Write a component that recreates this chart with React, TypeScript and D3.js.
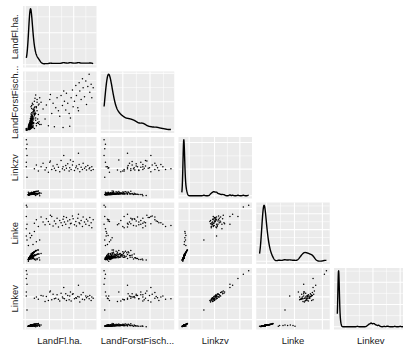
import React from "react";
import * as d3 from "d3";

// variable names as shown on the axes
const varLabels = ["LandFl.ha.", "LandForstFisch...", "Linkzv", "Linke", "Linkev"];

// observations (same order in every array):
// low cluster (2 x 90), mid-Linke group (8), high group (50), strip (7)
const landFl = [
  4, 6, 5, 7, 3, 8, 5, 9, 4, 6, 10, 7, 5, 11, 6, 8, 3, 12, 7, 5,
  9, 6, 14, 4, 8, 10, 5, 7, 6, 16, 4, 9, 7, 5, 12, 6, 8, 3, 11, 6,
  5, 7, 13, 4, 9, 6, 18, 5, 8, 7, 10, 4, 6, 15, 5, 8, 7, 3, 11, 6,
  9, 12, 8, 20, 14, 5, 7, 4, 10, 6, 22, 5, 8, 17, 6, 9, 4, 7, 13, 5,
  11, 6, 19, 8, 5, 7, 16, 4, 10, 6,
  5, 7, 6, 4, 9, 8, 6, 5, 11, 7, 4, 8, 6, 5, 10, 7, 3, 9, 6, 5,
  12, 7, 6, 4, 8, 9, 5, 7, 6, 13, 5, 8, 6, 4, 10, 7, 9, 3, 11, 6,
  5, 8, 12, 5, 9, 7, 15, 6, 8, 7, 10, 4, 6, 14, 5, 8, 7, 4, 11, 6,
  8, 10, 7, 16, 13, 5, 7, 4, 9, 6, 18, 5, 8, 14, 6, 9, 4, 7, 12, 5,
  10, 6, 17, 8, 5, 7, 19, 4, 9, 6,
  5, 8, 12, 15, 20, 10, 6, 3,
  12, 15, 18, 22, 25, 28, 30, 33, 35, 38, 40, 42, 44, 46, 48, 50, 52, 54, 55, 57,
  59, 60, 62, 64, 65, 67, 69, 70, 72, 74, 75, 77, 79, 80, 82, 84, 85, 87, 89, 90,
  92, 94, 95, 97, 98, 100, 36, 66, 56, 78,
  0, 1, 0, 1, 0, 1, 0,
];
const landForst = [
  3, 5, 8, 4, 2, 10, 6, 14, 1, 7, 18, 9, 4, 22, 12, 6, 5, 26, 11, 3,
  16, 8, 30, 6, 13, 9, 7, 20, 2, 35, 10, 5, 15, 9, 40, 4, 24, 7, 12, 17,
  11, 3, 28, 8, 21, 13, 45, 5, 19, 10, 33, 4, 15, 12, 2, 27, 6, 3, 38, 9,
  48, 52, 44, 58, 63, 14, 23, 11, 7, 18, 10, 6, 31, 20, 3, 25, 9, 16, 42, 8,
  35, 21, 15, 12, 5, 29, 55, 2, 14, 7,
  4, 9, 6, 3, 12, 15, 5, 8, 20, 11, 2, 17, 7, 10, 24, 13, 4, 19, 8, 5,
  28, 10, 14, 6, 22, 7, 9, 18, 3, 32, 12, 6, 16, 7, 37, 4, 26, 2, 14, 11,
  8, 5, 30, 10, 23, 12, 40, 6, 16, 9, 29, 5, 13, 18, 3, 21, 7, 4, 34, 10,
  39, 46, 42, 50, 57, 11, 19, 9, 6, 15, 12, 4, 27, 22, 5, 24, 8, 14, 36, 7,
  31, 17, 14, 10, 4, 25, 47, 3, 13, 8,
  4, 6, 3, 8, 10, 5, 12, 2,
  35, 42, 28, 50, 38, 20, 45, 8, 55, 30, 48, 6, 40, 58, 35, 25, 62, 44, 5, 52,
  36, 66, 48, 30, 7, 58, 72, 42, 52, 80, 62, 40, 85, 70, 55, 92, 76, 60, 88, 46,
  78, 100, 68, 82, 58, 76, 64, 22, 70, 35,
  0, 2, 1, 0, 2, 1, 3,
];
const linkzv = [
  2.4, 2.8, 2.2, 3.0, 1.8, 3.2, 2.6, 3.4, 2.0, 2.7, 3.6, 2.9, 2.5, 3.1, 2.3, 3.3, 1.6, 3.8, 2.6, 2.1,
  3.0, 2.8, 3.5, 2.4, 2.9, 3.2, 2.2, 3.4, 2.6, 4.0, 1.9, 3.1, 2.7, 2.5, 3.6, 2.3, 3.0, 1.5, 3.3, 2.8,
  2.4, 2.9, 3.7, 2.1, 3.2, 2.6, 4.2, 2.3, 2.9, 2.7, 3.4, 2.0, 2.5, 3.9, 2.2, 3.1, 2.8, 1.7, 3.5, 2.6,
  2.4, 2.0, 2.2, 0, 0.5, 2.6, 3.0, 2.3, 3.2, 2.7, 4.4, 2.4, 2.9, 4.1, 2.5, 3.3, 2.1, 2.8, 3.8, 2.3,
  2.6, 2.7, 4.3, 3.0, 2.2, 2.9, 2.1, 2.0, 3.1, 2.6,
  3.5, 4.8, 2.9, 2.2, 5.5, 4.1, 3.1, 2.7, 6.2, 3.8, 2.5, 4.5, 3.3, 2.8, 5.0, 3.6, 1.9, 4.9, 3.0, 2.6,
  6.8, 3.7, 3.2, 2.3, 4.3, 5.2, 2.9, 4.0, 3.4, 7.2, 2.7, 4.4, 3.5, 2.4, 5.8, 3.9, 4.7, 1.7, 6.0, 3.1,
  2.6, 4.2, 6.5, 2.8, 5.1, 3.6, 7.8, 3.0, 4.4, 3.7, 5.4, 2.3, 3.3, 7.0, 2.7, 4.6, 3.9, 2.0, 6.1, 3.2,
  3.0, 2.6, 2.9, 2.4, 2.1, 3.0, 4.1, 2.5, 4.8, 3.4, 8.4, 2.8, 4.3, 7.5, 3.2, 5.0, 2.4, 3.8, 6.6, 2.9,
  3.5, 3.3, 8.0, 4.5, 2.6, 4.0, 3.1, 2.1, 5.3, 3.5,
  5.0, 6.0, 4.5, 4.0, 5.5, 3.5, 4.5, 6.0,
  48, 55, 44, 52, 58, 46, 50, 42, 60, 47, 53, 49, 45, 56, 51, 43, 63, 48, 52, 46,
  54, 49, 57, 44, 50, 47, 55, 61, 45, 50, 53, 48, 56, 43, 51, 47, 58, 49, 52, 46,
  54, 48, 50, 45, 52, 47, 62, 64, 72, 76,
  100, 92, 84, 72, 60, 33, 52,
];
const linke = [
  5, 6, 4, 7, 3, 8, 6, 9, 4, 6, 10, 7, 5, 8, 5, 9, 2, 11, 6, 4,
  7, 6, 10, 5, 7, 8, 5, 9, 6, 12, 3, 8, 6, 5, 10, 5, 7, 0, 9, 6,
  5, 7, 11, 4, 8, 6, 13, 5, 7, 6, 9, 4, 6, 12, 4, 8, 7, 3, 10, 6,
  5, 3, 4, 2, 2, 6, 7, 5, 8, 6, 14, 5, 7, 13, 6, 9, 4, 7, 11, 5,
  5, 6, 13, 8, 4, 7, 3, 4, 8, 6,
  9, 13, 7, 5, 15, 11, 8, 6, 16, 10, 6, 12, 8, 7, 14, 9, 4, 13, 8, 6,
  17, 9, 8, 5, 11, 14, 7, 10, 8, 18, 6, 12, 9, 5, 15, 10, 12, 3, 16, 8,
  7, 11, 16, 6, 13, 9, 19, 7, 11, 9, 14, 5, 8, 18, 6, 12, 10, 4, 15, 8,
  7, 6, 7, 5, 4, 7, 10, 6, 13, 8, 20, 6, 11, 19, 8, 13, 5, 9, 17, 7,
  8, 8, 20, 12, 6, 10, 6, 4, 14, 9,
  50, 46, 53, 35, 38, 30, 42, 28,
  68, 74, 62, 79, 70, 65, 76, 71, 66, 80, 63, 72, 67, 77, 61, 73, 69, 64, 75, 70,
  66, 78, 72, 60, 74, 68, 81, 76, 65, 71, 63, 77, 69, 67, 73, 62, 79, 70, 66, 75,
  72, 64, 78, 69, 60, 74, 82, 67, 80, 84,
  100, 97, 80, 66, 58, 38, 45,
];
const linkev = [
  1.4, 1.7, 1.2, 1.9, 0.9, 2.1, 1.5, 2.3, 1.1, 1.6, 2.5, 1.8, 1.4, 2.0, 1.3, 2.2, 0.7, 2.6, 1.6, 1.2,
  1.9, 1.7, 2.4, 1.4, 1.8, 2.1, 1.3, 2.3, 1.5, 2.8, 1.0, 2.0, 1.7, 1.5, 2.5, 1.3, 1.9, 0.6, 2.2, 1.7,
  1.4, 1.8, 2.6, 1.1, 2.1, 1.6, 3.0, 1.3, 1.8, 1.7, 2.3, 1.0, 1.5, 2.7, 1.2, 2.0, 1.8, 0.8, 2.4, 1.6,
  1.2, 0.9, 1.0, 0.6, 0, 1.6, 1.9, 1.3, 2.1, 1.7, 3.2, 1.4, 1.8, 2.9, 1.5, 2.2, 1.1, 1.8, 2.6, 1.3,
  1.4, 1.6, 3.1, 2.0, 1.2, 1.9, 0.8, 1.0, 2.0, 1.6,
  2.2, 3.0, 1.8, 1.4, 3.6, 2.7, 2.0, 1.6, 4.0, 2.4, 1.5, 2.9, 2.1, 1.7, 3.3, 2.3, 1.0, 3.2, 1.9, 1.6,
  4.4, 2.4, 2.0, 1.3, 2.8, 3.4, 1.8, 2.6, 2.1, 4.8, 1.7, 2.8, 2.2, 1.5, 3.8, 2.5, 3.1, 0.9, 3.9, 2.0,
  1.6, 2.7, 4.2, 1.8, 3.3, 2.3, 5.2, 1.9, 2.9, 2.4, 3.5, 1.4, 2.1, 4.6, 1.7, 3.0, 2.5, 1.2, 4.0, 2.0,
  1.8, 1.5, 1.7, 1.3, 1.1, 1.9, 2.6, 1.5, 3.1, 2.2, 5.6, 1.7, 2.8, 5.0, 2.1, 3.2, 1.4, 2.4, 4.3, 1.8,
  2.2, 2.1, 5.4, 2.9, 1.6, 2.6, 1.7, 1.2, 3.4, 2.2,
  2, 3, 1, 2, 3, 2, 2, 1,
  51, 53, 49, 56, 55, 45, 54, 47, 62, 48, 58, 50, 51, 57, 49, 46, 60, 53, 51, 50,
  59, 47, 56, 48, 55, 46, 58, 59, 50, 52, 51, 54, 53, 44, 57, 49, 61, 48, 55, 52,
  54, 50, 56, 47, 53, 51, 64, 62, 70, 74,
  100, 94, 86, 76, 62, 30, 55,
];

const columns = [landFl, landForst, linkzv, linke, linkev];

// axis breaks (data units) for the grid lines
const majorBreaks = [
  [-1.7, 34.6, 70.9],
  [28, 68.7],
  [10.95, 48.9, 86.85],
  [10.4, 52.2, 94],
  [12.6, 53.3, 94],
];
const minorBreaks = [
  [16.5, 52.8, 89],
  [7.65, 48.35, 89],
  [30.2, 68.15],
  [31.3, 73.1],
  [33, 73.65],
];
const bandwidths = [2, 3.5, 1, 2.5, 0.9];

const W = 403;
const H = 345;
const left = 23;
const top = 6;
const colStep = 77.75;
const rowStep = 65.5;
const pw = 73.5;
const ph = 61.5;
const font = "'Liberation Sans', Arial, Helvetica, sans-serif";

const expand = (v: number[]) => {
  const [lo, hi] = d3.extent(v) as [number, number];
  const pad = (hi - lo) * 0.05;
  return [lo - pad, hi + pad];
};

const kde = (vals: number[], bw: number, xs: number[]) =>
  xs.map(x => {
    let s = 0;
    for (const v of vals) {
      const u = (x - v) / bw;
      s += Math.exp(-0.5 * u * u);
    }
    return [x, s / (vals.length * bw * Math.sqrt(2 * Math.PI))] as [number, number];
  });

const Panel = ({ i, j }: { i: number; j: number }) => {
  const x = d3.scaleLinear().domain(expand(columns[j])).range([0, pw]);
  const tx = left + j * colStep;
  const ty = top + i * rowStep;

  let y: d3.ScaleLinear<number, number>;
  let yMajor: number[];
  let yMinor: number[];
  let content: React.ReactNode;

  if (i === j) {
    const [lo, hi] = d3.extent(columns[j]) as [number, number];
    const xs = d3.range(0, 301).map(k => lo + ((hi - lo) * k) / 300);
    const dens = kde(columns[j], bandwidths[j], xs);
    const dmax = d3.max(dens, d => d[1]) as number;
    y = d3.scaleLinear().domain([-dmax * 0.05, dmax * 1.05]).range([ph, 0]);
    yMajor = y.ticks(3);
    const step = yMajor[1] - yMajor[0];
    yMinor = [yMajor[0] - step / 2, ...yMajor.map(t => t + step / 2)];
    const line = d3
      .line<[number, number]>()
      .x(d => x(d[0]))
      .y(d => y(d[1]));
    content = (
      <path d={line(dens) ?? ""} fill="none" stroke="#000" strokeWidth={1.4} strokeLinejoin="round" />
    );
  } else {
    y = d3.scaleLinear().domain(expand(columns[i])).range([ph, 0]);
    yMajor = majorBreaks[i];
    yMinor = minorBreaks[i];
    content = columns[j].map((v, k) => (
      <circle key={k} cx={x(v)} cy={y(columns[i][k])} r={0.75} fill="#000" />
    ));
  }

  const inX = (t: number) => x(t) >= 0 && x(t) <= pw;
  const inY = (t: number) => y(t) >= 0 && y(t) <= ph;

  return (
    <g transform={`translate(${tx},${ty})`}>
      <rect width={pw} height={ph} fill="#EBEBEB" />
      {yMinor.filter(inY).map((t, k) => (
        <line key={"ym" + k} x1={0} x2={pw} y1={y(t)} y2={y(t)} stroke="#fff" strokeWidth={0.55} />
      ))}
      {minorBreaks[j].filter(inX).map((t, k) => (
        <line key={"xm" + k} x1={x(t)} x2={x(t)} y1={0} y2={ph} stroke="#fff" strokeWidth={0.55} />
      ))}
      {yMajor.filter(inY).map((t, k) => (
        <line key={"yM" + k} x1={0} x2={pw} y1={y(t)} y2={y(t)} stroke="#fff" strokeWidth={1.1} />
      ))}
      {majorBreaks[j].filter(inX).map((t, k) => (
        <line key={"xM" + k} x1={x(t)} x2={x(t)} y1={0} y2={ph} stroke="#fff" strokeWidth={1.1} />
      ))}
      {content}
    </g>
  );
};

export default function App() {
  const n = varLabels.length;
  const panels: React.ReactNode[] = [];
  for (let i = 0; i < n; i++) {
    for (let j = 0; j <= i; j++) {
      panels.push(<Panel key={`${i}-${j}`} i={i} j={j} />);
    }
  }
  return (
    <svg
      width={W}
      height={H}
      style={{ position: "absolute", left: 0, top: 0, background: "#fff" }}
      fontFamily={font}
    >
      {panels}
      {varLabels.map((lab, k) => (
        <text
          key={"x" + k}
          x={left + k * colStep + pw / 2}
          y={343.5}
          textAnchor="middle"
          fontSize={9.5}
          fill="#1a1a1a"
        >
          {lab}
        </text>
      ))}
      {varLabels.map((lab, k) => (
        <text
          key={"y" + k}
          transform={`translate(17.5,${top + k * rowStep + ph / 2}) rotate(-90)`}
          textAnchor="middle"
          fontSize={9.5}
          fill="#1a1a1a"
        >
          {lab}
        </text>
      ))}
    </svg>
  );
}
